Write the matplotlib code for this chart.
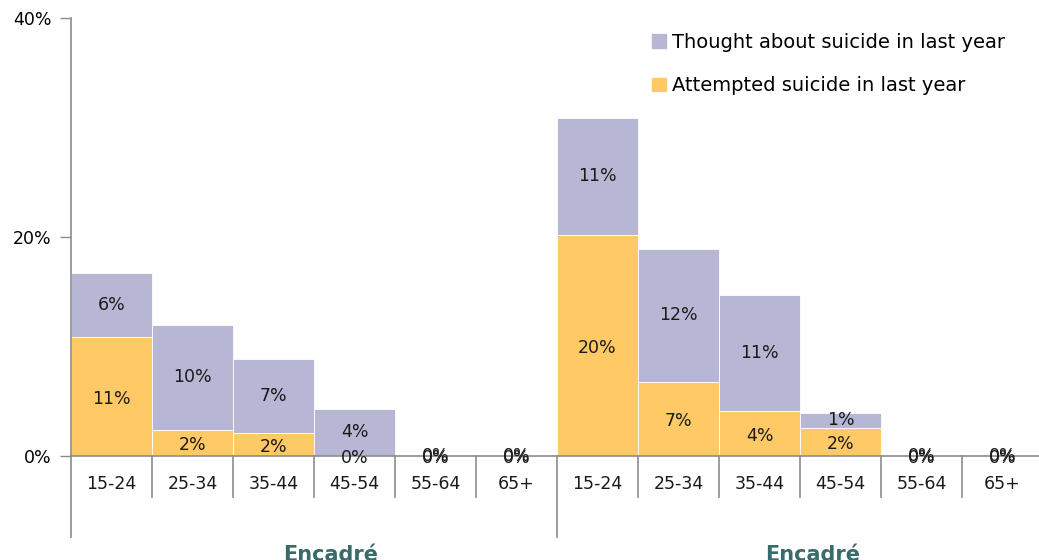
import numpy as np
import matplotlib
matplotlib.use('Agg')
import matplotlib.pyplot as plt
from matplotlib.patches import Patch

plt.rcParams['font.family'] = ['DejaVu Sans']

# Data (percent)
ages = ['15-24', '25-34', '35-44', '45-54', '55-64', '65+']
groups = ['Encadré', 'Encadré']
attempted = [10.9, 2.4, 2.1, 0.0, 0.0, 0.0,
             20.2, 6.8, 4.1, 2.6, 0.0, 0.0]
thought = [5.8, 9.6, 6.8, 4.3, 0.0, 0.0,
           10.7, 12.1, 10.6, 1.3, 0.0, 0.0]
attempted_labels = ['11%', '2%', '2%', '0%', '0%', '0%',
                    '20%', '7%', '4%', '2%', '0%', '0%']
thought_labels = ['6%', '10%', '7%', '4%', '0%', '0%',
                  '11%', '12%', '11%', '1%', '0%', '0%']

yellow = '#FFC966'
lavender = '#B7B7D5'
axis_grey = '#8C8C8C'

fig = plt.figure(figsize=(10.39, 5.6), dpi=100)
ax = fig.add_axes([71 / 1039, 1 - 456 / 560, 972 / 1039, 438 / 560])

x = np.arange(len(attempted))
b1 = ax.bar(x, attempted, width=1.0, color=yellow, edgecolor='white', linewidth=0.6)
b2 = ax.bar(x, thought, width=1.0, bottom=attempted, color=lavender,
            edgecolor='white', linewidth=0.6)

# value labels in the middle of each segment
for i in range(len(x)):
    ax.text(x[i], attempted[i] / 2 - 0.2, attempted_labels[i], ha='center', va='center',
            fontsize=12.5, color='#1a1a1a')
    ax.text(x[i], attempted[i] + thought[i] / 2, thought_labels[i], ha='center', va='center',
            fontsize=12.5, color='#1a1a1a')

ax.set_xlim(-0.5, len(x) - 0.5)
ax.set_ylim(0, 40)
ax.set_yticks([0, 20, 40])
ax.set_yticklabels(['0%', '20%', '40%'])
ax.tick_params(axis='y', length=8, width=1, color=axis_grey, labelsize=12.5, pad=6)
ax.set_xticks([])

for s in ['top', 'right']:
    ax.spines[s].set_visible(False)
ax.spines['left'].set_color(axis_grey)
ax.spines['bottom'].set_color(axis_grey)
ax.spines['left'].set_linewidth(1.2)
ax.spines['bottom'].set_linewidth(1.2)

# category labels and separators below the axis
trans = ax.get_xaxis_transform()
for i in range(len(x)):
    ax.text(x[i], -0.064, ages[i % 6], transform=trans, ha='center', va='center',
            fontsize=12.5, color='#1a1a1a')
for i in range(1, len(x)):
    low = -0.185 if i % 6 == 0 else -0.094
    ax.plot([i - 0.5, i - 0.5], [0, low], transform=trans, color=axis_grey,
            lw=1.2, clip_on=False)
ax.plot([-0.5, -0.5], [0, -0.185], transform=trans, color=axis_grey, lw=1.2, clip_on=False)

# group labels (cut by the bottom of the figure)
ax.text(2.7, -0.203, groups[0], transform=trans, ha='center', va='top',
        fontsize=15, fontweight='bold', color='#3A6B6B')
ax.text(8.65, -0.203, groups[1], transform=trans, ha='center', va='top',
        fontsize=15, fontweight='bold', color='#3A6B6B')

handles = [Patch(color=lavender), Patch(color=yellow)]
ax.legend(handles, ['Thought about suicide in last year', 'Attempted suicide in last year'],
          loc='upper left', bbox_to_anchor=(0.58, 1.006), frameon=False, fontsize=14,
          handlelength=0.7, handleheight=0.7, handletextpad=0.3, labelspacing=1.25)

fig.savefig('out.png', dpi=100)
